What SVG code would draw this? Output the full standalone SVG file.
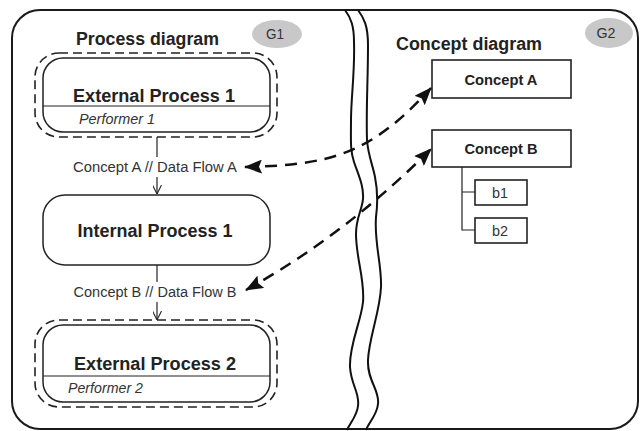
<svg xmlns="http://www.w3.org/2000/svg" width="642" height="431" viewBox="0 0 642 431">
<defs>
<style>
.frame{fill:none;stroke:#1a1a1a;stroke-width:2}
.wave{fill:none;stroke:#111;stroke-width:2}
.dash{fill:none;stroke:#222;stroke-width:1.6;stroke-dasharray:9,5}
.solid{fill:#fff;stroke:#222;stroke-width:1.5}
.box{fill:#fff;stroke:#222;stroke-width:1.6}
.thin{fill:none;stroke:#222;stroke-width:1.2}
.link{fill:none;stroke:#111;stroke-width:2.5;stroke-dasharray:12,8}
.title{font-family:"Liberation Sans",Arial,sans-serif;font-weight:bold;font-size:18px;fill:#222}
.node{font-family:"Liberation Sans",Arial,sans-serif;font-weight:bold;font-size:18px;fill:#222;text-anchor:middle}
.perf{font-family:"Liberation Sans",Arial,sans-serif;font-style:italic;font-size:14px;fill:#333}
.lbl{font-family:"Liberation Sans",Arial,sans-serif;font-size:14px;fill:#333;text-anchor:middle}
.cpt{font-family:"Liberation Sans",Arial,sans-serif;font-weight:bold;font-size:15px;fill:#222;text-anchor:middle}
.leaf{font-family:"Liberation Sans",Arial,sans-serif;font-size:15px;fill:#333;text-anchor:middle}
.tag{font-family:"Liberation Sans",Arial,sans-serif;font-size:14px;fill:#333;text-anchor:middle}
.ell{fill:#c8c8c8;stroke:none}
</style>
<marker id="big" viewBox="0 0 18 14" refX="17" refY="7" markerWidth="18" markerHeight="14" markerUnits="userSpaceOnUse" orient="auto-start-reverse">
<path d="M0,0 L18,7 L0,14 L3,7 Z" fill="#111"/>
</marker>
<marker id="open" viewBox="0 0 10 10" refX="10" refY="5" markerWidth="9" markerHeight="9" markerUnits="userSpaceOnUse" orient="auto">
<path d="M0,0 L10,5 L0,10" fill="none" stroke="#222" stroke-width="1.2"/>
</marker>
</defs>

<rect class="frame" x="12" y="10" width="626" height="419" rx="28"/>

<g id="divider">
<path class="wave" d="M345,10 C351,18 354,26 354,42 C355,72 351,98 351,120 C351,140 350,150 354,162 C358,174 364,186 363,199 C362,210 356,218 356,234 C356,258 365,280 363,302 C361,322 349,345 350,367 C351,385 360,393 358,406 C357,416 350,423 347,430"/>
<path class="wave" d="M358,10 C364,18 368,26 368,45 C368,80 366,110 367,140 C368,155 373,166 375,177 C378,192 378,202 376,217 C374,242 382,266 381,287 C380,312 369,337 368,360 C367,381 380,390 378,404 C377,415 369,422 366,430"/>
</g>

<g id="g1">
<text class="title" x="76" y="45" textLength="143" lengthAdjust="spacingAndGlyphs">Process diagram</text>
<ellipse class="ell" cx="277" cy="34" rx="25" ry="14"/>
<text class="tag" x="275" y="39" textLength="18" lengthAdjust="spacingAndGlyphs">G1</text>
</g>

<g id="g2">
<text class="title" x="396" y="50" textLength="146" lengthAdjust="spacingAndGlyphs">Concept diagram</text>
<ellipse class="ell" cx="609" cy="33" rx="24" ry="15"/>
<text class="tag" x="606" y="38" textLength="19" lengthAdjust="spacingAndGlyphs">G2</text>
</g>

<g id="external1">
<rect class="dash" x="35" y="53" width="242" height="84" rx="24"/>
<rect class="solid" x="43" y="58" width="227" height="74" rx="20"/>
<line class="thin" x1="43" y1="106" x2="270" y2="106"/>
<text class="node" x="154" y="102" textLength="162" lengthAdjust="spacingAndGlyphs">External Process 1</text>
<text class="perf" x="79" y="124" textLength="76" lengthAdjust="spacingAndGlyphs">Performer 1</text>
</g>

<g id="internal1">
<rect class="solid" x="43" y="195" width="227" height="70" rx="22"/>
<text class="node" x="155" y="237" textLength="155" lengthAdjust="spacingAndGlyphs">Internal Process 1</text>
</g>

<g id="external2">
<rect class="dash" x="35" y="320" width="242" height="87" rx="24"/>
<rect class="solid" x="43" y="325" width="227" height="77" rx="20"/>
<line class="thin" x1="43" y1="376" x2="270" y2="376"/>
<text class="node" x="155" y="370" textLength="162" lengthAdjust="spacingAndGlyphs">External Process 2</text>
<text class="perf" x="68" y="393" textLength="75" lengthAdjust="spacingAndGlyphs">Performer 2</text>
</g>

<g id="conceptA">
<rect class="box" x="432" y="60" width="139" height="38"/>
<text class="cpt" x="501" y="85" textLength="73" lengthAdjust="spacingAndGlyphs">Concept A</text>
</g>

<g id="conceptB">
<rect class="box" x="432" y="130" width="139" height="37"/>
<text class="cpt" x="501" y="154" textLength="73" lengthAdjust="spacingAndGlyphs">Concept B</text>
</g>

<g id="b1">
<rect class="box" x="475" y="180" width="52" height="25"/>
<text class="leaf" x="500" y="198" textLength="16" lengthAdjust="spacingAndGlyphs">b1</text>
</g>

<g id="b2">
<rect class="box" x="475" y="218" width="52" height="25"/>
<text class="leaf" x="500" y="236" textLength="16" lengthAdjust="spacingAndGlyphs">b2</text>
</g>

<g id="connectors">
<line class="thin" x1="157" y1="137" x2="157" y2="157"/>
<text class="lbl" x="155" y="172" textLength="164" lengthAdjust="spacingAndGlyphs">Concept A // Data Flow A</text>
<line class="thin" x1="157" y1="177" x2="157" y2="194" marker-end="url(#open)"/>
<line class="thin" x1="157" y1="265" x2="157" y2="282"/>
<text class="lbl" x="155" y="297" textLength="163" lengthAdjust="spacingAndGlyphs">Concept B // Data Flow B</text>
<line class="thin" x1="157" y1="302" x2="157" y2="320" marker-end="url(#open)"/>
<path class="thin" d="M462,167 L462,230 L475,230 M462,192 L475,192"/>
<path class="link" d="M245,167 C330,165 370,155 431,88" marker-start="url(#big)" marker-end="url(#big)"/>
<path class="link" d="M246,290 Q345,235 431,149" marker-start="url(#big)" marker-end="url(#big)"/>
</g>
</svg>
